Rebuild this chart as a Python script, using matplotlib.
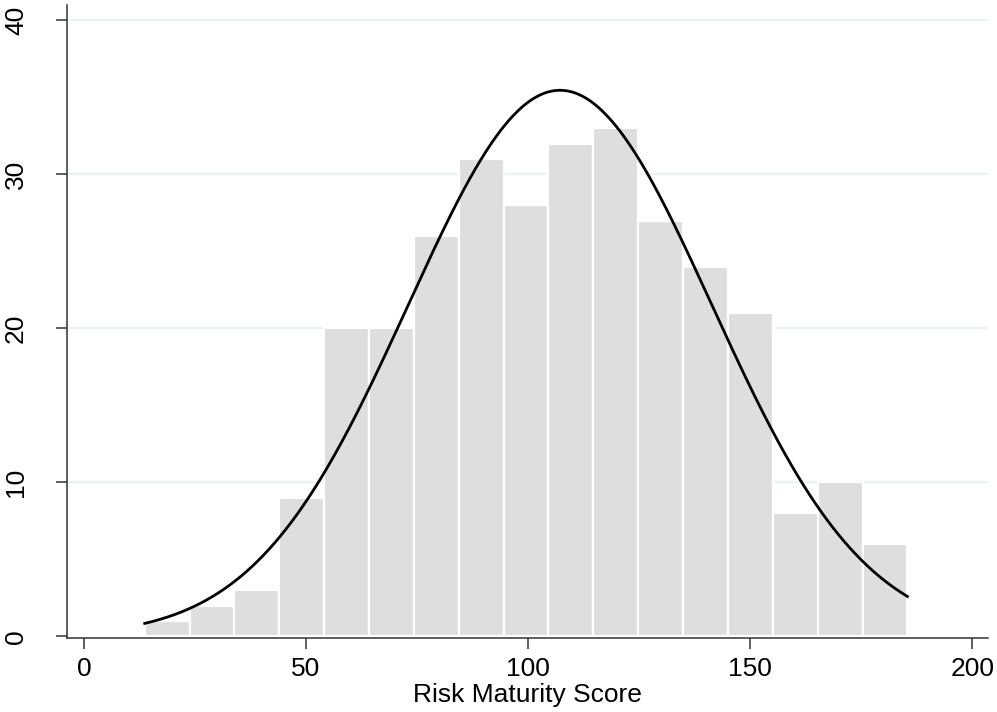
import numpy as np
import matplotlib
matplotlib.use("Agg")
import matplotlib.pyplot as plt

plt.rcParams['font.family'] = ['Liberation Sans', 'DejaVu Sans']

# histogram bins (left edge of first bin, bin width) and counts
bin_start = 13.7
bin_width = 10.1
counts = [1, 2, 3, 9, 20, 20, 26, 31, 28, 32, 33, 27, 24, 21, 8, 10, 6]

# normal curve overlay: estimated mean / sd of the scores
mu = 107.2
sigma = 34.2

xticks = [0, 50, 100, 150, 200]
yticks = [0, 10, 20, 30, 40]

fig = plt.figure(figsize=(9.97, 7.12), dpi=100)
ax = fig.add_axes([0.0672, 0.104, 0.924, 0.889])

edges = bin_start + bin_width * np.arange(len(counts) + 1)
n = sum(counts)

# grid lines first so bars sit on top
for y in yticks[1:]:
    ax.axhline(y, color='#eaf2f3', lw=1.6, zorder=0)

ax.bar(edges[:-1], counts, width=bin_width, align='edge',
       color='#dedede', edgecolor='white', linewidth=1.6, zorder=1)

xs = np.linspace(edges[0], edges[-1], 400)
dens = n * bin_width * np.exp(-0.5 * ((xs - mu) / sigma) ** 2) / (sigma * np.sqrt(2 * np.pi))
ax.plot(xs, dens, color='black', lw=2, zorder=2)

ax.set_xlim(-3.8, 203.6)
ax.set_ylim(-0.1, 41.0)
ax.set_xticks(xticks)
ax.set_yticks(yticks)
ax.set_xticklabels([str(t) for t in xticks], fontsize=19)
ax.set_yticklabels([str(t) for t in yticks], fontsize=19, rotation=90, va='center')
ax.tick_params(axis='both', length=8, width=1.1, color='#333333')
ax.tick_params(axis='x', pad=6)
ax.tick_params(axis='y', pad=20)
ax.set_xlabel('Risk Maturity Score', fontsize=19, labelpad=1)

for side in ['top', 'right']:
    ax.spines[side].set_visible(False)
for side in ['left', 'bottom']:
    ax.spines[side].set_color('#333333')
    ax.spines[side].set_linewidth(1.1)

fig.savefig('out.png', dpi=100)
